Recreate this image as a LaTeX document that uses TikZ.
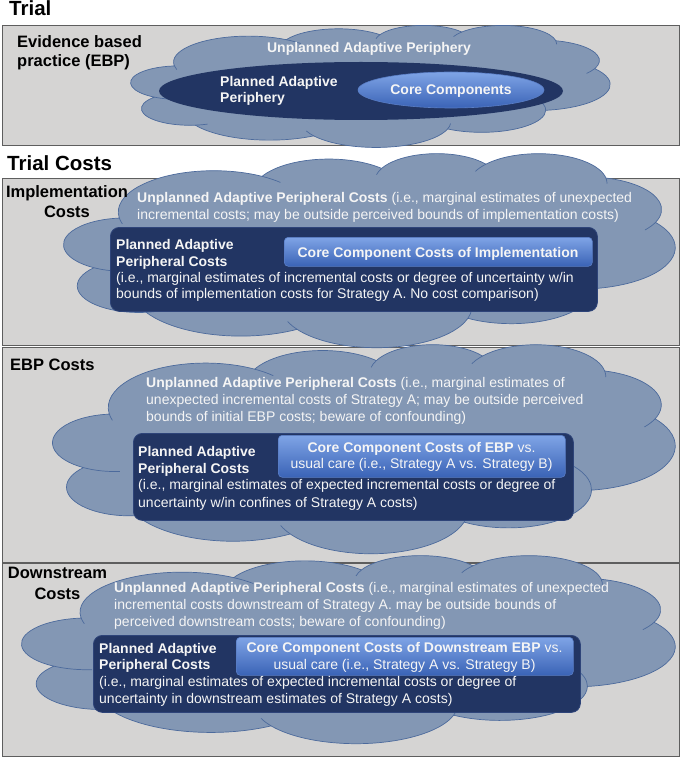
\documentclass[tikz,border=0pt]{standalone}
\usepackage{fontspec}
\setmainfont{Liberation Sans}
\usetikzlibrary{shapes.geometric}
\definecolor{boxgray}{HTML}{D5D4D3}
\definecolor{boxline}{HTML}{5E5E5E}
\definecolor{cloudfill}{HTML}{8397B4}
\definecolor{cloudedge}{HTML}{4C6A9C}
\definecolor{darkblue}{HTML}{223563}
\definecolor{darkedge}{HTML}{2E4479}
\definecolor{coretop}{HTML}{7FA4E6}
\definecolor{corebot}{HTML}{3A63B6}
\definecolor{coreedge}{HTML}{5A7EC6}
\definecolor{cloudtext}{HTML}{F5F5F5}
\makeatletter
\newcommand\defarc[5]{%
  \pgfmathparse{atan2((#2)*sin(#4),(#3)*cos(#4))}%
  \global\let\arc@a\pgfmathresult
  \pgfmathparse{atan2((#2)*sin((#4)+(#5)),(#3)*cos((#4)+(#5)))}%
  \global\let\arc@b\pgfmathresult
  \pgfmathparse{\arc@b-\arc@a}%
  \global\let\arc@d\pgfmathresult
  \pgfmathparse{(((#5)>0)&&(\arc@d<0))?(\arc@d+360):(\arc@d)}%
  \global\let\arc@d\pgfmathresult
  \pgfmathparse{(((#5)<0)&&(\arc@d>0))?(\arc@d-360):(\arc@d)}%
  \global\let\arc@d\pgfmathresult
  \expandafter\global\expandafter\let\csname cA#1\endcsname\arc@a
  \expandafter\global\expandafter\let\csname cD#1\endcsname\arc@d
}
\makeatother
\defarc{a}{6.753}{9.190}{-190.4875}{123.7805}
\defarc{b}{5.333}{7.267}{-144.1024}{89.9452}
\defarc{c}{4.365}{5.945}{-145.8079}{99.7230}
\defarc{d}{4.857}{6.595}{-130.9861}{117.2417}
\defarc{e}{5.333}{7.273}{-78.7089}{109.0269}
\defarc{f}{6.775}{9.220}{-46.2673}{130.2690}
\defarc{g}{5.785}{7.867}{0.6250}{114.0333}
\defarc{h}{6.752}{9.215}{22.4516}{115.1726}
\defarc{i}{7.720}{10.543}{66.2426}{75.7110}
\defarc{j}{4.360}{5.918}{-274.9421}{146.7356}
\defarc{k}{4.345}{5.945}{-246.8285}{152.5189}
\defarc{ia}{6.753}{9.190}{-190.4875}{-11.86}
\defarc{ib}{6.753}{9.190}{-66.707}{12.32}
\defarc{ic}{4.365}{5.945}{-145.8079}{-17.69}
\defarc{id}{4.857}{6.595}{-130.9861}{-18.20}
\defarc{ie}{4.857}{6.595}{-13.7444}{14.86}
\defarc{if}{5.333}{7.273}{30.318}{17.24}
\defarc{ig}{5.785}{7.867}{0.6250}{-70.92}
\defarc{ih}{6.752}{9.215}{22.4516}{-16.00}
\defarc{ii}{6.752}{9.215}{137.6242}{14.08}
\defarc{ij}{4.360}{5.918}{-274.9421}{-11.45}
\defarc{ik}{4.345}{5.945}{-246.8285}{-26.43}
\newcommand\pptcloud[5]{%
  \pgfmathsetmacro\cloudsx{(#4)/43.2}%
  \pgfmathsetmacro\cloudsy{(#5)/43.2}%
  \begin{scope}[shift={(#2,#3)}, x=\cloudsx pt, y=-\cloudsy pt]
    \path[cloudshape] (3.9,14.37) coordinate (#1J0)
      arc[start angle=\cAa, delta angle=\cDa, x radius=6.753, y radius=9.190] coordinate (#1J1)
      arc[start angle=\cAb, delta angle=\cDb, x radius=5.333, y radius=7.267] coordinate (#1J2)
      arc[start angle=\cAc, delta angle=\cDc, x radius=4.365, y radius=5.945] coordinate (#1J3)
      arc[start angle=\cAd, delta angle=\cDd, x radius=4.857, y radius=6.595] coordinate (#1J4)
      arc[start angle=\cAe, delta angle=\cDe, x radius=5.333, y radius=7.273] coordinate (#1J5)
      arc[start angle=\cAf, delta angle=\cDf, x radius=6.775, y radius=9.220] coordinate (#1J6)
      arc[start angle=\cAg, delta angle=\cDg, x radius=5.785, y radius=7.867] coordinate (#1J7)
      arc[start angle=\cAh, delta angle=\cDh, x radius=6.752, y radius=9.215] coordinate (#1J8)
      arc[start angle=\cAi, delta angle=\cDi, x radius=7.720, y radius=10.543] coordinate (#1J9)
      arc[start angle=\cAj, delta angle=\cDj, x radius=4.360, y radius=5.918] coordinate (#1J10)
      arc[start angle=\cAk, delta angle=\cDk, x radius=4.345, y radius=5.945] -- cycle;
    \draw[cloudline] (#1J0) arc[start angle=\cAia, delta angle=\cDia, x radius=6.753, y radius=9.190];
    \draw[cloudline] (#1J1) arc[start angle=\cAib, delta angle=\cDib, x radius=6.753, y radius=9.190];
    \draw[cloudline] (#1J2) arc[start angle=\cAic, delta angle=\cDic, x radius=4.365, y radius=5.945];
    \draw[cloudline] (#1J3) arc[start angle=\cAid, delta angle=\cDid, x radius=4.857, y radius=6.595];
    \draw[cloudline] (#1J4) arc[start angle=\cAie, delta angle=\cDie, x radius=4.857, y radius=6.595];
    \draw[cloudline] (#1J5) arc[start angle=\cAif, delta angle=\cDif, x radius=5.333, y radius=7.273];
    \draw[cloudline] (#1J6) arc[start angle=\cAig, delta angle=\cDig, x radius=5.785, y radius=7.867];
    \draw[cloudline] (#1J7) arc[start angle=\cAih, delta angle=\cDih, x radius=6.752, y radius=9.215];
    \draw[cloudline] (#1J8) arc[start angle=\cAii, delta angle=\cDii, x radius=6.752, y radius=9.215];
    \draw[cloudline] (#1J9) arc[start angle=\cAij, delta angle=\cDij, x radius=4.360, y radius=5.918];
    \draw[cloudline] (#1J10) arc[start angle=\cAik, delta angle=\cDik, x radius=4.345, y radius=5.945];
  \end{scope}
}
\begin{document}
\begin{tikzpicture}[x=1pt,y=-1pt,
  panel/.style={draw=boxline, line width=1.1pt, fill=boxgray, inner sep=0pt, anchor=north west},
  cloudshape/.style={fill=cloudfill, draw=cloudedge, line width=0.7pt, line join=round},
  cloudline/.style={draw=cloudedge, line width=0.7pt},
  darkbox/.style={fill=darkblue, draw=darkedge, line width=0.8pt, rounded corners=9pt, inner sep=0pt, anchor=north west},
  corebox/.style={top color=coretop, bottom color=corebot, draw=coreedge, line width=0.6pt, rounded corners=4pt, inner sep=0pt, anchor=north west},
  lbl/.style={inner sep=0pt, anchor=base west, font=\fontsize{14}{17}\selectfont},
  wlbl/.style={lbl, text=cloudtext},
  clbl/.style={wlbl, anchor=base},
  head/.style={inner sep=0pt, anchor=base west, font=\fontsize{16.5}{20}\selectfont\bfseries},
  chead/.style={head, anchor=base},
  ttl/.style={inner sep=0pt, anchor=base west, font=\fontsize{20.5}{24}\selectfont\bfseries}]
\fill[white] (0,0) rectangle (685,759);
\useasboundingbox (0,0) rectangle (685,759);
% panels
\node[panel, minimum width=677pt, minimum height=120pt] (trialbox) at (2,25) {};
\node[panel, minimum width=677pt, minimum height=167pt] (implbox) at (2,178) {};
\node[panel, minimum width=677pt, minimum height=215pt] (ebpbox) at (2,347) {};
\node[panel, minimum width=677pt, minimum height=193pt] (downbox) at (2,563) {};
% clouds
\pptcloud{ca}{131}{25}{479}{122}
\pptcloud{cb}{64}{153}{611}{194}
\pptcloud{cc}{53}{344}{622}{209}
\pptcloud{cd}{22}{555}{653}{188}
% inner shapes
\node[ellipse, fill=darkblue, minimum width=404pt, minimum height=58pt, inner sep=0pt] (plannedell) at (361,91) {};
\node[ellipse, top color=coretop, bottom color=corebot, draw=coreedge, line width=0.6pt, minimum width=186pt, minimum height=36pt, inner sep=0pt] (coreell) at (451,90) {};
\node[darkbox, minimum width=487pt, minimum height=84pt] (implplan) at (110,227) {};
\node[corebox, minimum width=308pt, minimum height=29pt] (implcore) at (284,237) {};
\node[darkbox, minimum width=440pt, minimum height=87pt] (ebpplan) at (133,433) {};
\node[corebox, minimum width=287pt, minimum height=42pt] (ebpcore) at (278,435) {};
\node[darkbox, minimum width=487pt, minimum height=77pt] (downplan) at (93,635) {};
\node[corebox, minimum width=337pt, minimum height=38pt] (downcore) at (236,637) {};
% titles and headings
\node[ttl] (trialtitle) at (9,16) {Trial};
\node[ttl] (coststitle) at (7,171) {Trial Costs};
\node[head] (ebplabA) at (17,48) {Evidence based};
\node[head] (ebplabB) at (17,67) {practice (EBP)};
\node[chead] (impllabA) at (67,198) {Implementation};
\node[chead] (impllabB) at (67,218) {Costs};
\node[head] (ebpclab) at (10,370) {EBP Costs};
\node[chead] (downlabA) at (57.5,578) {Downstream};
\node[chead] (downlabB) at (57.5,599) {Costs};
% trial texts
\node[clbl, font=\fontsize{14}{17}\selectfont\bfseries] (unplA) at (369,53) {Unplanned Adaptive Periphery};
\node[wlbl, font=\fontsize{14}{17}\selectfont\bfseries] (plaA) at (220,87) {Planned Adaptive};
\node[wlbl, font=\fontsize{14}{17}\selectfont\bfseries] (plaB) at (220,103) {Periphery};
\node[clbl, font=\fontsize{14}{17}\selectfont\bfseries] (coreA) at (451,95) {Core Components};
% implementation texts
\node[wlbl] (unplBa) at (137,203) {\textbf{Unplanned Adaptive Peripheral Costs} (i.e., marginal estimates of unexpected};
\node[wlbl] (unplBb) at (137,219) {incremental costs; may be outside perceived bounds of implementation costs)};
\node[wlbl] (plBa) at (116,249) {\textbf{Planned Adaptive}};
\node[wlbl] (plBb) at (116,266) {\textbf{Peripheral Costs}};
\node[wlbl] (plBc) at (116,282) {(i.e., marginal estimates of incremental costs or degree of uncertainty w/in};
\node[wlbl] (plBd) at (116,298) {bounds of implementation costs for Strategy A. No cost comparison)};
\node[clbl] (coreB) at (438,257) {\textbf{Core Component Costs of Implementation}};
% EBP texts
\node[wlbl] (unplCa) at (146,387) {\textbf{Unplanned Adaptive Peripheral Costs} (i.e., marginal estimates of};
\node[wlbl] (unplCb) at (146,404) {unexpected incremental costs of Strategy A; may be outside perceived};
\node[wlbl] (unplCc) at (146,421) {bounds of initial EBP costs; beware of confounding)};
\node[wlbl] (plCa) at (138,456) {\textbf{Planned Adaptive}};
\node[wlbl] (plCb) at (138,473) {\textbf{Peripheral Costs}};
\node[wlbl] (plCc) at (138,489) {(i.e., marginal estimates of expected incremental costs or degree of};
\node[wlbl] (plCd) at (138,507) {uncertainty w/in confines of Strategy A costs)};
\node[clbl] (coreCa) at (421.5,452) {\textbf{Core Component Costs of EBP} vs.};
\node[clbl] (coreCb) at (421.5,468) {usual care (i.e., Strategy A vs. Strategy B)};
% downstream texts
\node[wlbl] (unplDa) at (114,592) {\textbf{Unplanned Adaptive Peripheral Costs} (i.e., marginal estimates of unexpected};
\node[wlbl] (unplDb) at (114,609) {incremental costs downstream of Strategy A. may be outside bounds of};
\node[wlbl] (unplDc) at (114,626) {perceived downstream costs; beware of confounding)};
\node[wlbl] (plDa) at (99,653) {\textbf{Planned Adaptive}};
\node[wlbl] (plDb) at (99,669) {\textbf{Peripheral Costs}};
\node[wlbl] (plDc) at (99,686) {(i.e., marginal estimates of expected incremental costs or degree of};
\node[wlbl] (plDd) at (99,703) {uncertainty in downstream estimates of Strategy A costs)};
\node[clbl] (coreDa) at (404.5,652) {\textbf{Core Component Costs of Downstream EBP} vs.};
\node[clbl] (coreDb) at (404.5,669) {usual care (i.e., Strategy A vs. Strategy B)};
\end{tikzpicture}
\end{document}
